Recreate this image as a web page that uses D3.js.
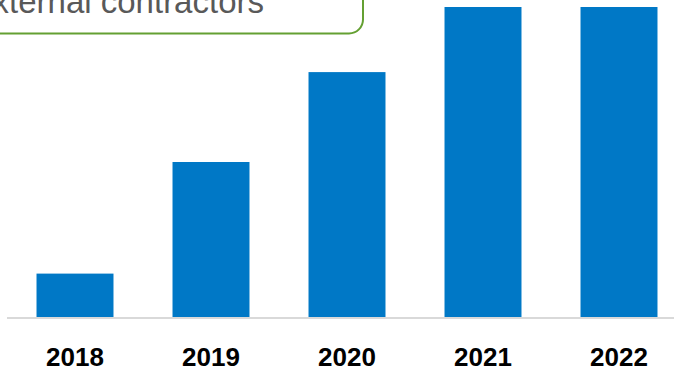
<!DOCTYPE html>
<html><head><meta charset="utf-8">
<script src="https://cdn.jsdelivr.net/npm/d3@7"></script>
<style>html,body{margin:0;padding:0;background:#fff;overflow:hidden}</style>
</head><body>
<svg id="c" width="674" height="371"></svg>
<script>
const categories = ["2018", "2019", "2020", "2021", "2022"];
const values = [14, 50, 79, 100, 100];
const calloutText = "External contractors";

const svg = d3.select("#c");
const x = d3.scaleBand().domain(categories).range([7, 687]).paddingInner(0.434).paddingOuter(0.217);
const y = d3.scaleLinear().domain([0, 100]).range([317, 7]);

svg.selectAll("rect.bar").data(values).join("rect")
  .attr("class", "bar")
  .attr("x", (d, i) => x(categories[i]))
  .attr("width", x.bandwidth())
  .attr("y", d => y(d))
  .attr("height", d => y(0) - y(d))
  .attr("fill", "#0078c6");

// baseline axis
svg.append("line").attr("x1", 7).attr("x2", 674).attr("y1", y(0) + 1).attr("y2", y(0) + 1)
  .attr("stroke", "#d9d9d9").attr("stroke-width", 2);

svg.selectAll("text.lab").data(categories).join("text")
  .attr("class", "lab")
  .attr("x", d => x(d) + x.bandwidth() / 2)
  .attr("y", 366)
  .attr("text-anchor", "middle")
  .attr("font-family", "'Liberation Sans', Arial, sans-serif")
  .attr("font-weight", "bold")
  .attr("font-size", 26)
  .attr("fill", "#000")
  .text(d => d);

// callout box (cropped at top/left)
const r = 14;
svg.append("path")
  .attr("d", `M-5,33.5 L${363 - r},33.5 A${r},${r} 0 0 0 363,${33.5 - r} L363,-5`)
  .attr("fill", "none").attr("stroke", "#64a032").attr("stroke-width", 2);
svg.append("text")
  .attr("x", 264).attr("y", 13)
  .attr("text-anchor", "end")
  .attr("font-family", "'Liberation Sans', Arial, sans-serif")
  .attr("font-size", 33)
  .attr("fill", "#595959")
  .text(calloutText);
</script>
</body></html>
